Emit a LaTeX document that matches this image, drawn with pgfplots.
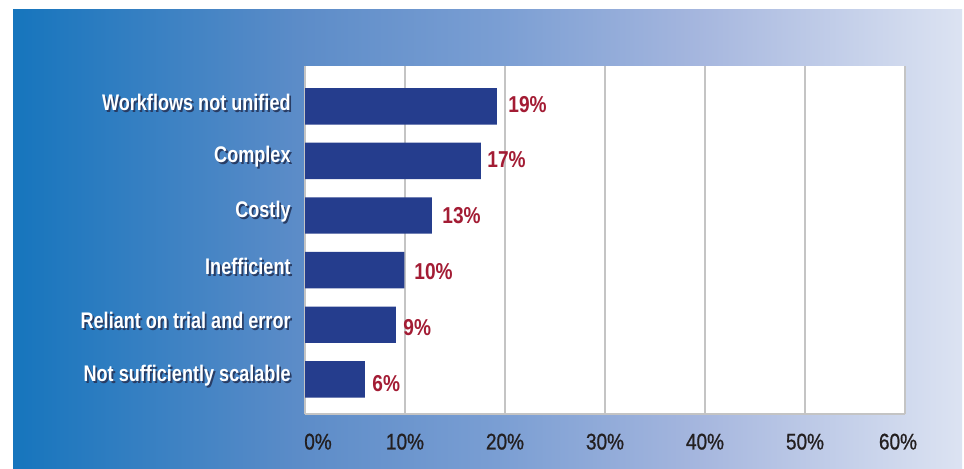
\documentclass[border=0pt]{standalone}
\usepackage{pgfplots}
\pgfplotsset{compat=1.18}
\usepackage{fontspec}
\setmainfont{Liberation Sans}
\newfontfamily\labfont[FakeStretch=0.8]{Liberation Sans}
\newfontfamily\tickfont[FakeStretch=0.84, FakeBold=0.8]{Liberation Sans}
\newfontfamily\valfont[FakeStretch=0.83]{Liberation Sans}
\definecolor{barc}{RGB}{37,61,141}
\definecolor{valc}{RGB}{163,28,52}
\definecolor{tickc}{RGB}{35,31,32}
\definecolor{gridc}{RGB}{196,196,196}
\definecolor{g0}{RGB}{22,117,189}
\definecolor{g1}{RGB}{92,140,200}
\definecolor{g2}{RGB}{122,158,211}
\definecolor{g3}{RGB}{165,182,222}
\definecolor{g4}{RGB}{220,227,242}
\pgfdeclarehorizontalshading{bgshade}{100bp}{color(0bp)=(g0); color(25bp)=(g0); color(40bp)=(g1); color(50.5bp)=(g2); color(61bp)=(g3); color(75bp)=(g4); color(100bp)=(g4)}
\definecolor{shadowc}{RGB}{40,60,100}
\newcommand{\shadowed}[1]{\makebox[0pt][l]{\kern0.9bp\raisebox{-0.9bp}{\textcolor{shadowc}{#1}}}\textcolor{white}{#1}}
\pgfplotstableread{
y x
0 6.0
1 9.1
2 9.95
3 12.7
4 17.6
5 19.2
}\bars
\pgfplotstableread{
y x label
-0.07 6.7 6\%
0.95 9.8 9\%
1.98 10.9 10\%
2.99 13.7 13\%
4.03 18.2 17\%
5.04 20.3 19\%
}\vals
\begin{document}
\begin{tikzpicture}
\path[use as bounding box, fill=white] (0,0) rectangle (482bp,234.5bp);
\shade[shading=bgshade] (6.5bp,0) rectangle (481bp,229.5bp);
\begin{axis}[
  at={(152.5bp,27.35bp)}, anchor=south west,
  scale only axis, width=300bp, height=174.3bp,
  xmin=0, xmax=60, ymin=-0.64, ymax=5.744,
  axis background/.style={fill=white},
  axis x line=bottom, axis y line=left,
  axis line style={draw=gridc, line width=1bp, -},
  xmajorgrids, grid style={draw=gridc, line width=1bp},
  xtick={0,10,20,30,40,50,60},
  xticklabels={\hspace*{13bp}0\%,10\%,20\%,30\%,40\%,50\%,60\%\hspace*{7bp}},
  ytick={0,1,2,3,4,5},
  yticklabels={\shadowed{Not sufficiently scalable},\shadowed{Reliant on trial and error},\shadowed{Inefficient},\shadowed{Costly},\shadowed{Complex},\shadowed{Workflows not unified}},
  major tick length=0pt,
  xticklabel style={font=\tickfont\fontsize{11.3bp}{13bp}\selectfont, text=tickc, anchor=north, inner sep=0pt, yshift=-9.5bp},
  yticklabel style={font=\labfont\bfseries\fontsize{11.3bp}{13bp}\selectfont, anchor=east, inner sep=0pt, xshift=-7bp, yshift=1.5bp},
  clip=false,
]
\addplot[xbar, bar width=0.667, fill=barc, draw=none] table[x=x, y=y] {\bars};
\addplot[draw=none, mark=none, nodes near coords, point meta=explicit symbolic,
  nodes near coords align={anchor=west},
  every node near coord/.append style={font=\valfont\bfseries\fontsize{11.5bp}{13bp}\selectfont, text=valc, inner sep=0pt}]
  table[x=x, y=y, meta=label] {\vals};
\end{axis}
\end{tikzpicture}
\end{document}
